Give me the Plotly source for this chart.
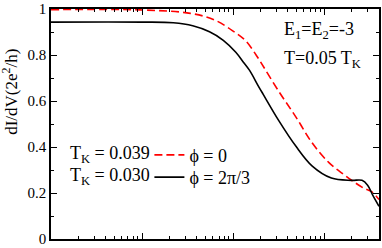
import plotly.graph_objects as go

# Red dashed curve: phi = 0 (T_K = 0.039)
x_red = [1e-4, 9.5e-4, 3.4e-3, 6.2e-3, 1.0e-2, 1.38e-2, 1.9e-2, 2.0e-2, 3.16e-2, 4.9e-2,
         7.4e-2, 0.112, 0.155, 0.209, 0.275, 0.331, 0.40]
y_red = [0.997, 0.996, 0.981, 0.953, 0.904, 0.861, 0.784, 0.770, 0.643, 0.530,
         0.417, 0.333, 0.288, 0.250, 0.220, 0.206, 0.172]

# Black solid curve: phi = 2pi/3 (T_K = 0.030)
x_blk = [1e-4, 1e-3, 2.2e-3, 3.6e-3, 5.5e-3, 7.8e-3, 1.07e-2, 1.29e-2, 1.51e-2, 1.9e-2,
         2.14e-2, 3.16e-2, 4.9e-2, 7.4e-2, 0.12, 0.20, 0.26, 0.30, 0.34, 0.40]
y_blk = [0.943, 0.943, 0.940, 0.927, 0.901, 0.864, 0.812, 0.770, 0.734, 0.664,
         0.629, 0.516, 0.403, 0.317, 0.265, 0.255, 0.255, 0.234, 0.192, 0.142]

y_ticks = [0, 0.2, 0.4, 0.6, 0.8, 1.0]
y_tick_labels = ["0", "0.2", "0.4", "0.6", "0.8", "1"]

serif = "Liberation Serif, Times New Roman, DejaVu Serif, serif"

fig = go.Figure()
fig.add_trace(go.Scatter(x=x_red, y=y_red, mode="lines", name="ϕ = 0", legend="legend",
                         line=dict(color="#ff0000", dash="8px,4px", width=1.6, shape="spline")))
fig.add_trace(go.Scatter(x=x_blk, y=y_blk, mode="lines", name="ϕ = 2π/3", legend="legend2",
                         line=dict(color="#000000", width=1.6, shape="spline")))

leg_common = dict(xanchor="left", yanchor="top", bgcolor="rgba(0,0,0,0)",
                  font=dict(family=serif, size=18), itemwidth=30)
fig.update_layout(
    width=382, height=248,
    margin=dict(l=51, r=1, t=5, b=6),
    paper_bgcolor="white", plot_bgcolor="white",
    font=dict(family=serif, color="black", size=14),
    showlegend=True,
    legend=dict(x=0.3, y=0.445, **leg_common),
    legend2=dict(x=0.3, y=0.348, **leg_common),
)
fig.update_xaxes(type="log", range=[-4, -0.398], showticklabels=False,
                 showline=True, linecolor="black", linewidth=1.5, mirror="ticks",
                 ticks="inside", ticklen=6, tickcolor="black", dtick=1,
                 showgrid=False, zeroline=False,
                 minor=dict(ticks="inside", ticklen=3, tickcolor="black", dtick="D1", showgrid=False))
fig.update_yaxes(range=[0, 1], tickmode="array", tickvals=y_ticks, ticktext=y_tick_labels,
                 ticklabeloverflow="allow",
                 showline=True, linecolor="black", linewidth=1.5, mirror="ticks",
                 ticks="inside", ticklen=6, tickcolor="black",
                 showgrid=False, zeroline=False,
                 tickfont=dict(family=serif, size=15),
                 minor=dict(ticks="inside", ticklen=3, tickcolor="black", tick0=0, dtick=0.1, showgrid=False))

anns = [
    dict(text="dI/dV(2e<sup>2</sup>/h)", xref="paper", yref="paper", x=-0.125, y=0.64,
         textangle=-90, showarrow=False, font=dict(family=serif, size=17), xanchor="center", yanchor="middle"),
    dict(text="E<sub>1</sub>=E<sub>2</sub>=-3", xref="paper", yref="paper", x=0.705, y=0.905,
         showarrow=False, font=dict(family=serif, size=18), xanchor="left", yanchor="middle"),
    dict(text="T=0.05 T<sub>K</sub>", xref="paper", yref="paper", x=0.705, y=0.78,
         showarrow=False, font=dict(family=serif, size=18), xanchor="left", yanchor="middle"),
    dict(text="T<sub>K</sub> = 0.039", xref="paper", yref="paper", x=0.308, y=0.367,
         showarrow=False, font=dict(family=serif, size=18), xanchor="right", yanchor="middle"),
    dict(text="T<sub>K</sub> = 0.030", xref="paper", yref="paper", x=0.308, y=0.270,
         showarrow=False, font=dict(family=serif, size=18), xanchor="right", yanchor="middle"),
]
fig.update_layout(annotations=anns)

fig.write_html("out.html", config={"displayModeBar": False},
               post_script="document.body.style.margin='0';document.body.style.padding='0';")
